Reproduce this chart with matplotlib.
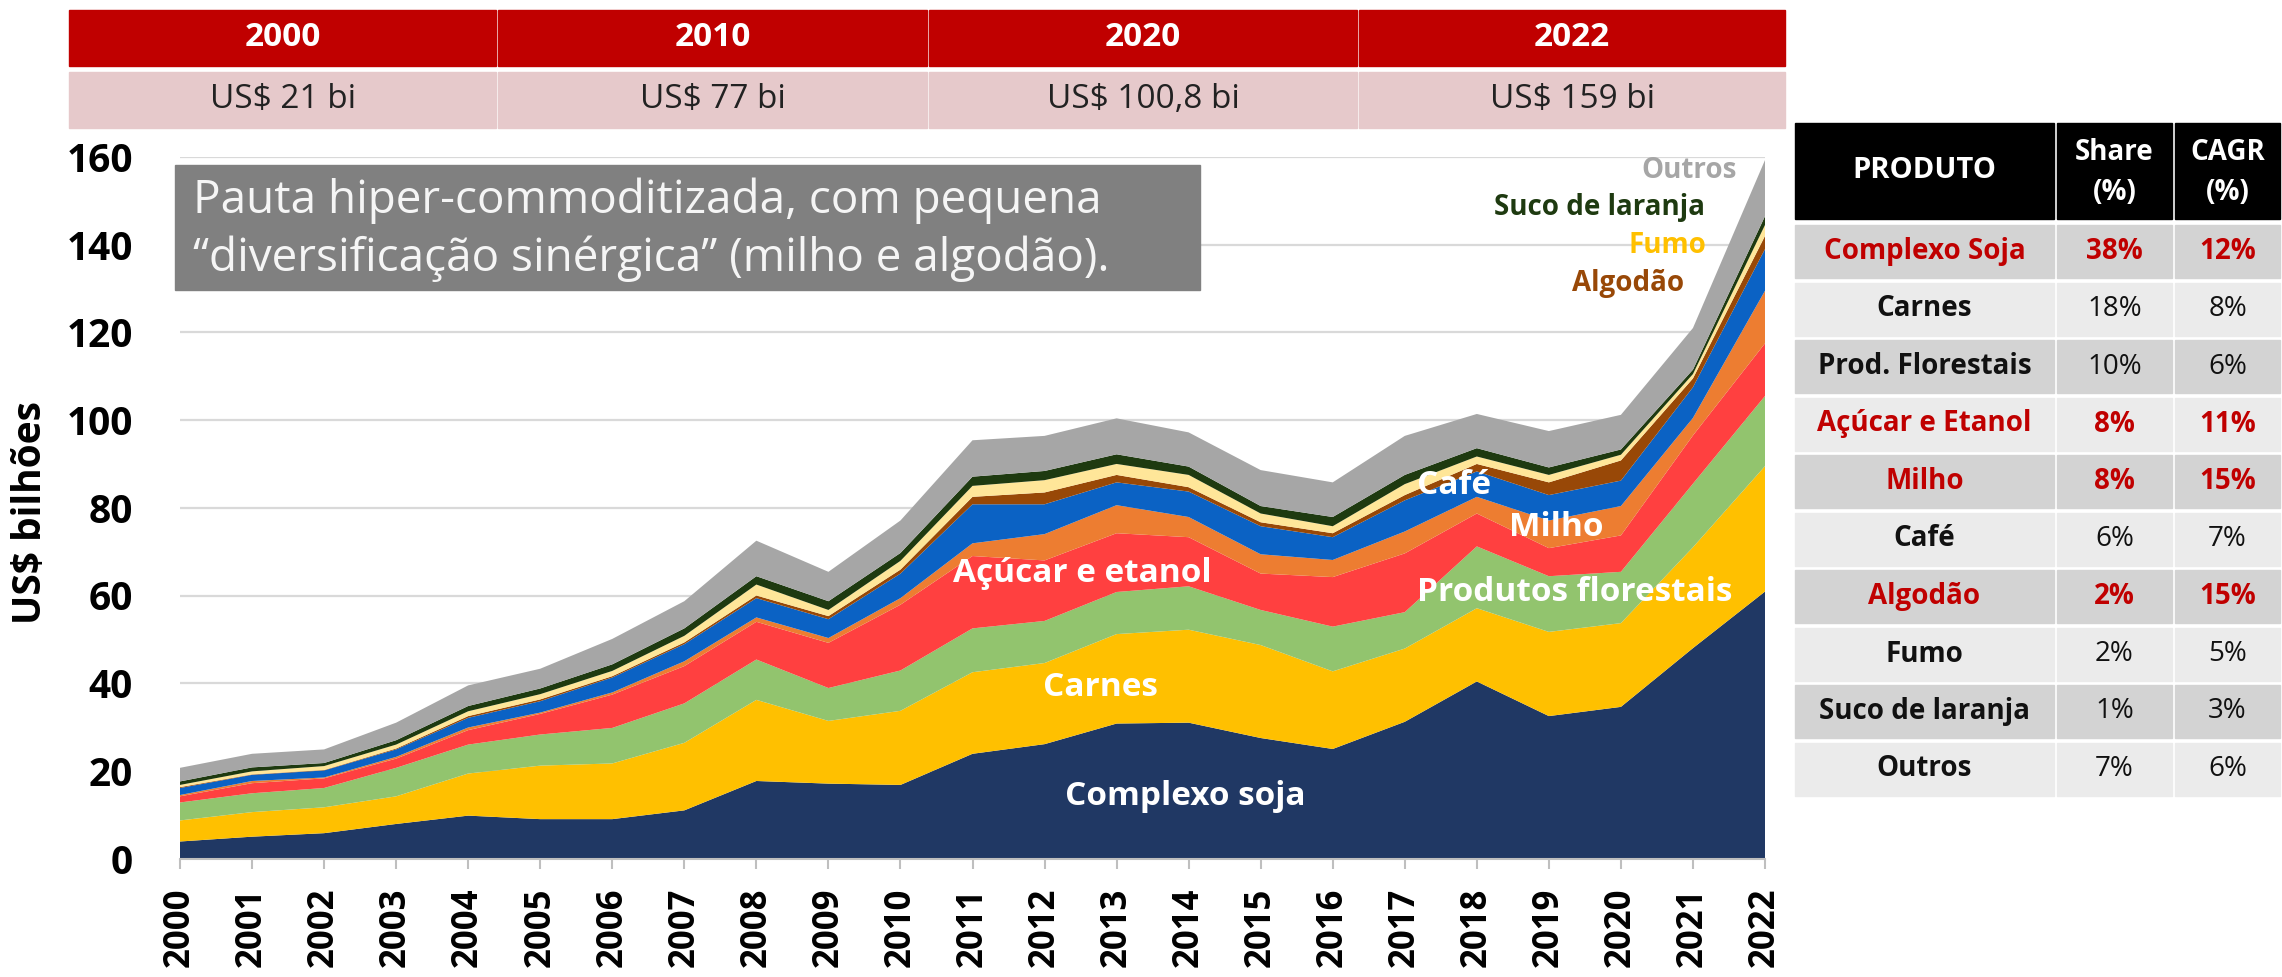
import matplotlib
matplotlib.use('Agg')
import matplotlib.pyplot as plt
from matplotlib.patches import Rectangle

plt.rcParams['font.family'] = ['Open Sans', 'DejaVu Sans']

# Exportações do agro por produto, US$ bilhões
years = list(range(2000, 2023))
soja = [3.9, 5.0, 5.8, 7.9, 9.8, 9.0, 9.0, 11.0, 17.7, 17.1, 16.8, 23.9, 26.1, 30.8, 31.0, 27.5, 25.0, 31.2, 40.4, 32.5, 34.6, 48.0, 60.9]
carnes = [4.8, 5.6, 5.9, 6.3, 9.6, 12.2, 12.7, 15.4, 18.5, 14.3, 16.9, 18.6, 18.5, 20.4, 21.2, 21.2, 17.7, 16.7, 16.7, 19.2, 19.1, 23.0, 28.6]
florestais = [4.1, 4.3, 4.4, 6.5, 6.6, 7.1, 8.1, 9.0, 9.2, 7.5, 9.2, 10.0, 9.6, 9.6, 9.9, 8.0, 10.2, 8.3, 14.1, 12.7, 11.7, 14.5, 16.0]
acucar = [1.4, 2.3, 2.2, 2.1, 3.3, 4.7, 7.6, 8.5, 8.6, 10.3, 15.0, 16.5, 13.8, 13.4, 11.2, 8.3, 11.3, 13.4, 7.5, 6.4, 8.3, 11.0, 12.0]
milho = [0.3, 0.5, 0.2, 0.4, 0.6, 0.3, 0.5, 1.1, 1.0, 1.1, 1.5, 2.9, 6.0, 6.4, 4.6, 4.4, 3.9, 5.0, 3.8, 6.3, 6.7, 4.0, 12.0]
cafe = [1.6, 1.4, 1.6, 1.7, 2.2, 2.6, 3.4, 3.9, 4.4, 4.3, 5.6, 8.9, 6.8, 5.2, 5.8, 6.4, 5.2, 7.1, 5.8, 5.8, 5.8, 7.0, 9.5]
algodao = [0.2, 0.1, 0.1, 0.2, 0.4, 0.4, 0.3, 0.4, 0.6, 0.7, 0.9, 1.7, 2.7, 1.7, 1.0, 0.9, 0.9, 1.2, 1.7, 2.9, 4.6, 2.0, 3.0]
fumo = [0.5, 0.7, 0.9, 0.9, 1.1, 1.2, 1.2, 1.5, 2.5, 1.4, 2.0, 2.5, 2.8, 2.5, 2.8, 2.0, 1.6, 2.5, 1.7, 1.7, 1.3, 1.0, 2.5]
suco = [0.8, 0.9, 0.7, 1.0, 1.2, 1.3, 1.5, 1.7, 1.9, 2.0, 1.8, 2.1, 2.1, 2.2, 1.9, 1.7, 2.1, 2.1, 1.9, 1.7, 1.2, 1.0, 2.0]
outros = [3.1, 3.1, 3.1, 4.0, 4.7, 4.5, 5.8, 6.2, 8.1, 6.7, 7.4, 8.3, 8.0, 8.2, 7.8, 8.2, 7.9, 8.9, 7.8, 8.3, 7.9, 9.5, 12.8]

series = [soja, carnes, florestais, acucar, milho, cafe, algodao, fumo, suco, outros]
colors = ['#203864', '#FFC000', '#92C46E', '#FF4040', '#ED7D31', '#0B62C4',
          '#984807', '#FFE699', '#1E3A10', '#A6A6A6']

# Tabela de cima
top_years = ['2000', '2010', '2020', '2022']
top_values = ['US$ 21 bi', 'US$ 77 bi', 'US$ 100,8 bi', 'US$ 159 bi']

# Tabela da direita
produtos = ['Complexo Soja', 'Carnes', 'Prod. Florestais', 'Açúcar e Etanol', 'Milho',
            'Café', 'Algodão', 'Fumo', 'Suco de laranja', 'Outros']
share = ['38%', '18%', '10%', '8%', '8%', '6%', '2%', '2%', '1%', '7%']
cagr = ['12%', '8%', '6%', '11%', '15%', '7%', '15%', '5%', '3%', '6%']
destaque = [True, False, False, True, True, False, True, False, False, False]

W, H = 2282, 977
fig = plt.figure(figsize=(W / 100, H / 100), dpi=100)

# --- area chart ---
ax = fig.add_axes([180 / W, 1 - 858.6 / H, (1765 - 180) / W, (858.6 - 157) / H])
ax.stackplot(years, *series, colors=colors, linewidth=0)
ax.set_xlim(2000, 2022)
ax.set_ylim(0, 160)
ax.set_yticks(range(0, 161, 20))
ax.set_xticks(years)
ax.set_xticklabels([str(y) for y in years], rotation=90, fontsize=25, fontweight='bold')
ax.tick_params(axis='x', length=7, width=1.5, color='#BFBFBF', pad=14)
ax.tick_params(axis='y', length=0, pad=34, labelsize=28)
for lab in ax.get_yticklabels():
    lab.set_fontweight('bold')
ax.grid(axis='y', color='#D9D9D9', linewidth=1.6)
ax.set_axisbelow(True)
for s in ['top', 'right', 'left']:
    ax.spines[s].set_visible(False)
ax.spines['bottom'].set_color('#BFBFBF')
ax.spines['bottom'].set_linewidth(1.5)

fig.text(31 / W, 1 - 512 / H, 'US$ bilhões', rotation=90, ha='center', va='center',
         fontsize=28, fontweight='bold')

# rótulos das áreas
white_labels = [('Complexo soja', 2013.95, 14.2), ('Carnes', 2012.78, 39.1),
                ('Açúcar e etanol', 2012.52, 65.1), ('Produtos florestais', 2019.36, 60.7),
                ('Milho', 2019.1, 75.6), ('Café', 2017.68, 85.0)]
for txt, x, y in white_labels:
    ax.text(x, y, txt, color='white', fontsize=24, fontweight='bold', ha='center', va='center')
top_labels = [('Outros', 2020.94, 157.0, '#A6A6A6'), ('Suco de laranja', 2019.7, 148.4, '#1E3A10'),
              ('Fumo', 2020.65, 139.8, '#FFC000'), ('Algodão', 2020.1, 131.2, '#984807')]
for txt, x, y, c in top_labels:
    ax.text(x, y, txt, color=c, fontsize=20, fontweight='bold', ha='center', va='center')

# --- overlay in pixel coordinates for tables and note box ---
ov = fig.add_axes([0, 0, 1, 1], zorder=5)
ov.set_xlim(0, W)
ov.set_ylim(H, 0)
ov.axis('off')
ov.patch.set_alpha(0)

# caixa de comentário
ov.add_patch(Rectangle((175, 165), 1025, 125, color='#808080'))
ov.text(193, 201, 'Pauta hiper-commoditizada, com pequena', color='#F5F5F5',
        fontsize=33, va='center', ha='left')
ov.text(193, 259, '“diversificação sinérgica” (milho e algodão).', color='#F5F5F5',
        fontsize=33, va='center', ha='left')

# tabela de cima
col_edges = [68, 497, 928, 1358, 1786]
for i in range(4):
    x0, x1 = col_edges[i], col_edges[i + 1]
    ov.add_patch(Rectangle((x0 + 1, 10), x1 - x0 - 2, 56, color='#C00000'))
    ov.add_patch(Rectangle((x0 + 1, 72), x1 - x0 - 2, 56, color='#E6C9CB'))
    xc = (x0 + x1) / 2
    ov.text(xc, 38, top_years[i], color='white', fontsize=24, fontweight='bold',
            ha='center', va='center')
    ov.text(xc, 100, top_values[i], color='#222222', fontsize=24, ha='center', va='center')

# tabela da direita
tcols = [(1795, 2054), (2057, 2172), (2175, 2280)]
for x0, x1 in tcols:
    ov.add_patch(Rectangle((x0, 123), x1 - x0, 96, color='black'))
ov.text(sum(tcols[0]) / 2, 171, 'PRODUTO', color='white', fontsize=21, fontweight='bold',
        ha='center', va='center')
for (x0, x1), head in zip(tcols[1:], ['Share', 'CAGR']):
    ov.text((x0 + x1) / 2, 152, head, color='white', fontsize=20, fontweight='bold',
            ha='center', va='center')
    ov.text((x0 + x1) / 2, 192, '(%)', color='white', fontsize=20, fontweight='bold',
            ha='center', va='center')

row_h = 57.5
for i, prod in enumerate(produtos):
    y0 = 225 + i * row_h
    bg = '#D3D3D3' if i % 2 == 0 else '#EBEBEB'
    for x0, x1 in tcols:
        ov.add_patch(Rectangle((x0, y0), x1 - x0, row_h - 4.5, color=bg))
    yc = y0 + (row_h - 4.5) / 2
    c = '#C00000' if destaque[i] else '#111111'
    w = 'bold' if destaque[i] else 'normal'
    ov.text(sum(tcols[0]) / 2, yc, prod, color=c, fontsize=20, fontweight='bold',
            ha='center', va='center')
    ov.text(sum(tcols[1]) / 2, yc, share[i], color=c, fontsize=20, fontweight=w,
            ha='center', va='center')
    ov.text(sum(tcols[2]) / 2, yc, cagr[i], color=c, fontsize=20, fontweight=w,
            ha='center', va='center')

fig.savefig('out.png', dpi=100)
